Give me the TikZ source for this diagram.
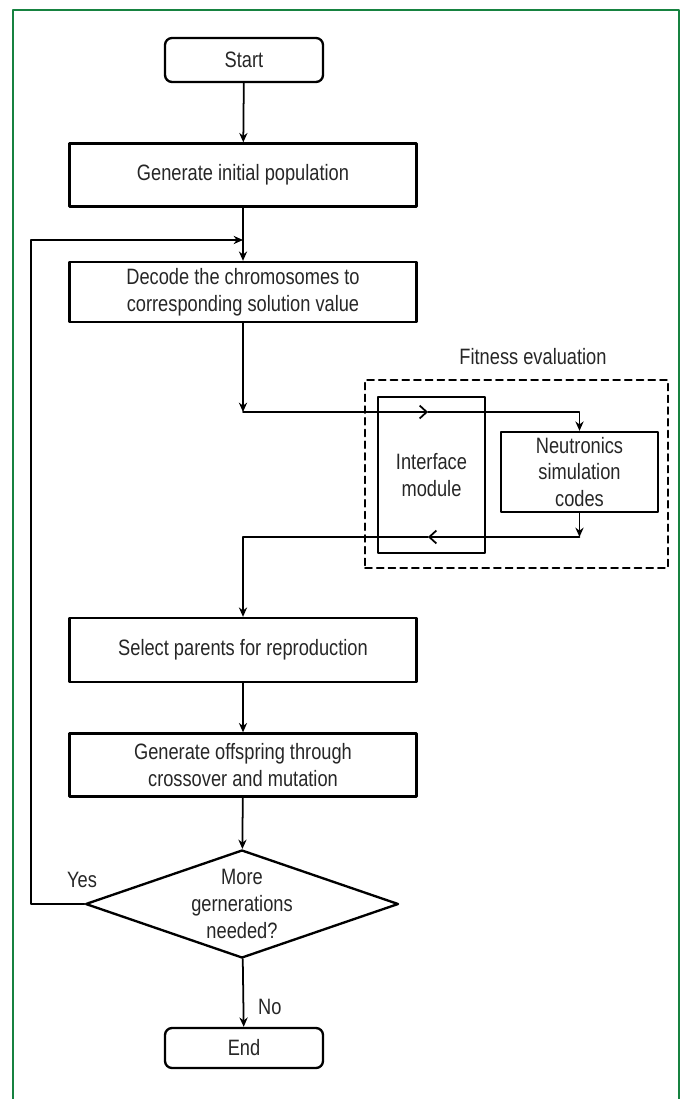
\documentclass[tikz,border=0pt]{standalone}
\usepackage{fontspec}
\newfontfamily\flowfont{Liberation Sans}[FakeStretch=0.82]
\usepackage{tikz}
\usetikzlibrary{arrows.meta,shapes.geometric,positioning}
\definecolor{FrameGreen}{RGB}{22,130,64}
\definecolor{InkGray}{RGB}{38,38,38}
\newcommand{\MainColor}{black}

\tikzset{
  procbox/.style={draw=\MainColor, line width=2pt, rectangle, inner sep=0pt,
    minimum width=10.41cm, align=center, text=InkGray},
  termbox/.style={draw=\MainColor, line width=2pt, rounded corners=6pt,
    minimum width=4.74cm, minimum height=1.32cm, text=InkGray},
  decbox/.style={draw=\MainColor, line width=2pt, diamond, aspect=2.9,
    inner sep=0pt, align=center, text=InkGray},
  flow/.style={-{Stealth[length=8pt,width=7pt]}, line width=1.5pt, draw=\MainColor},
  midtip/.style={-{Straight Barb[length=6pt,width=11pt]}, line width=1.5pt, draw=\MainColor}
}

\begin{document}
\begin{tikzpicture}[line cap=round, line join=round, x=0.03cm, y=-0.03cm,
  font=\flowfont\fontsize{19}{23}\selectfont]
  \useasboundingbox (0,0) rectangle (681,1099);
  \draw [FrameGreen, line width=1.2pt] (13,1099) -- (13,10) -- (679,10) -- (679,1099);
  % main column
  \node[termbox] (start) at (244,60) {Start};
  \node[procbox, minimum height=1.89cm] (initpop) at (243,175) {Generate initial population};
  \node[procbox, minimum height=1.8cm] (decode) at (243,292)
    {Decode the chromosomes to\\corresponding solution value};
  \node[procbox, minimum height=1.92cm] (select) at (243,650) {Select parents for reproduction};
  \node[procbox, minimum height=1.89cm] (offspring) at (243,765)
    {Generate offspring through\\crossover and mutation};
  \node[decbox, minimum width=9.39cm, minimum height=3.24cm] (more) at (242,904)
    {More\\gernerations\\needed?};
  \node[termbox, minimum height=1.2cm] (end) at (244,1048) {End};
  % fitness evaluation block
  \node[draw=\MainColor, dash pattern=on 6pt off 4pt, line width=1.3pt, inner sep=0pt,
    minimum width=9.09cm, minimum height=5.64cm] (fitness) at (516.5,474) {};
  \node[text=InkGray] (fitlabel) at (533,357) {Fitness evaluation};
  \node[draw=\MainColor, line width=2pt, inner sep=0pt, align=center, text=InkGray,
    minimum width=3.21cm, minimum height=4.68cm] (interface) at (431.5,475) {Interface\\module};
  \node[draw=\MainColor, line width=2pt, inner sep=0pt, align=center, text=InkGray,
    minimum width=4.71cm, minimum height=2.4cm] (neutron) at (579.5,472)
    {Neutronics\\simulation\\codes};
  \coordinate (loopin) at (243,240);
  \coordinate (fork) at (243,412);
  \coordinate (inmid) at (428,412);
  \coordinate (retdown) at (579.5,537);
  \coordinate (outmid) at (428,537);
  % connectors
  \draw[flow] (start) -- (initpop);
  \draw[flow] (initpop) -- (decode);
  \draw[flow] (decode) -- (fork);
  \draw[midtip] (fork) -- (inmid);
  \draw[flow] (inmid) -| (neutron.north);
  \draw[flow] (neutron) -- (retdown);
  \draw[midtip] (retdown) -- (outmid);
  \draw[flow] (outmid) -| (select.north);
  \draw[flow] (select) -- (offspring);
  \draw[flow] (offspring) -- (more);
  \draw[flow] (more.west) -- ++(-53,0) |- (loopin);
  \draw[flow] (more) -- (end) node[pos=0.7, right=0.3cm, text=InkGray] {No};
  \node[text=InkGray] (yes) at (82,880) {Yes};
\end{tikzpicture}
\end{document}
